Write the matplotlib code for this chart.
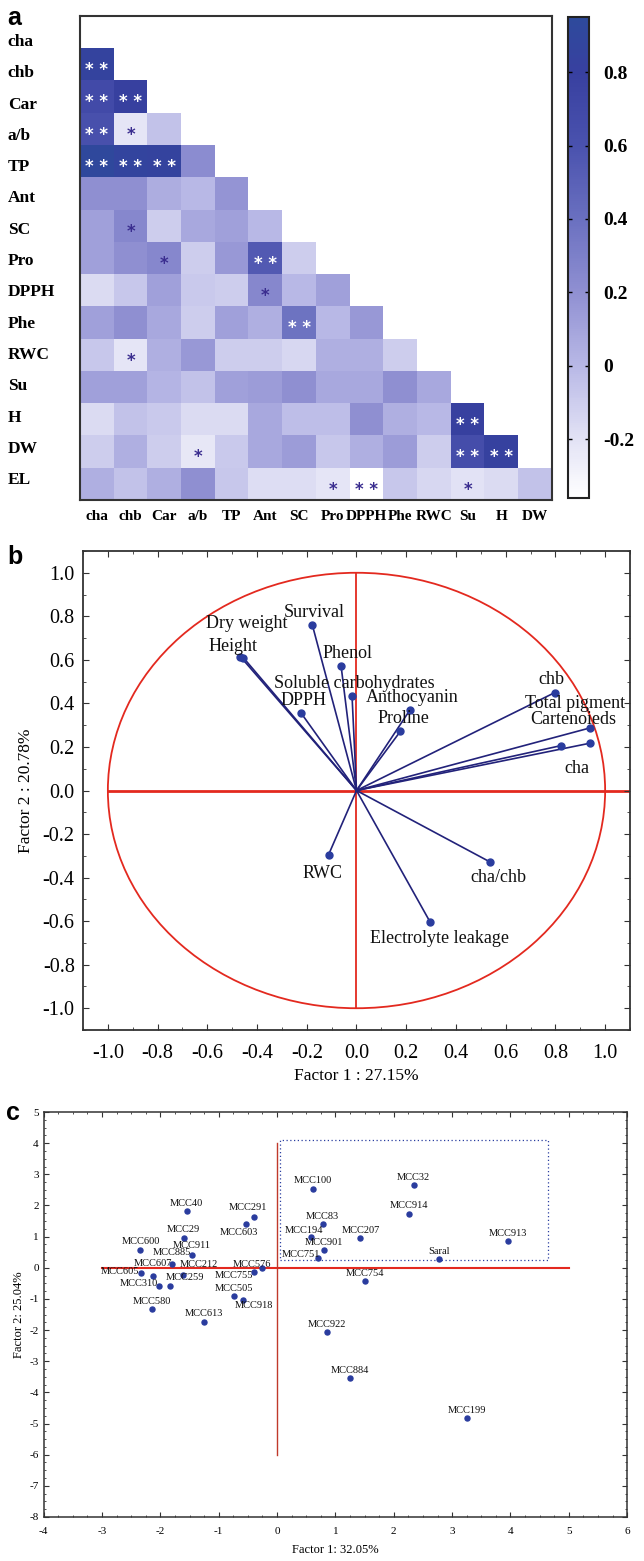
import numpy as np
import matplotlib
matplotlib.use('Agg')
import matplotlib.pyplot as plt
from matplotlib.colors import LinearSegmentedColormap, Normalize
from matplotlib.patches import Circle, Rectangle
from matplotlib.ticker import MultipleLocator
import matplotlib.cm as cm

plt.rcParams['axes.unicode_minus'] = False

# ---------------- Panel a data ----------------
traits = ['cha', 'chb', 'Car', 'a/b', 'TP', 'Ant', 'SC', 'Pro', 'DPPH', 'Phe',
          'RWC', 'Su', 'H', 'DW', 'EL']
corr_rows = [
    [],
    [0.85],
    [0.68, 0.80],
    [0.62, -0.22, -0.05],
    [0.93, 0.87, 0.85, 0.22],
    [0.20, 0.20, 0.05, 0.00, 0.18],
    [0.12, 0.25, -0.10, 0.08, 0.12, 0.00],
    [0.12, 0.20, 0.25, -0.10, 0.16, 0.55, -0.10],
    [-0.17, -0.07, 0.12, -0.08, -0.10, 0.25, 0.00, 0.12],
    [0.12, 0.20, 0.08, -0.10, 0.12, 0.04, 0.38, 0.00, 0.16],
    [-0.07, -0.22, 0.04, 0.16, -0.10, -0.10, -0.15, 0.04, 0.04, -0.10],
    [0.12, 0.12, 0.02, -0.05, 0.12, 0.14, 0.20, 0.08, 0.08, 0.20, 0.08],
    [-0.17, -0.05, -0.08, -0.17, -0.17, 0.08, -0.03, -0.03, 0.20, 0.04, 0.00, 0.80],
    [-0.10, 0.04, -0.10, -0.23, -0.08, 0.08, 0.14, -0.07, 0.04, 0.14, -0.10, 0.65, 0.82],
    [0.04, -0.05, 0.04, 0.20, -0.07, -0.18, -0.18, -0.22, -0.36, -0.07, -0.15, -0.20, -0.17, -0.05],
]
sig_rows = [
    [],
    ['**'],
    ['**', '**'],
    ['**', '*', ''],
    ['**', '**', '**', ''],
    ['', '', '', '', ''],
    ['', '*', '', '', '', ''],
    ['', '', '*', '', '', '**', ''],
    ['', '', '', '', '', '*', '', ''],
    ['', '', '', '', '', '', '**', '', ''],
    ['', '*', '', '', '', '', '', '', '', ''],
    ['', '', '', '', '', '', '', '', '', '', ''],
    ['', '', '', '', '', '', '', '', '', '', '', '**'],
    ['', '', '', '*', '', '', '', '', '', '', '', '**', '**'],
    ['', '', '', '', '', '', '', '*', '**', '', '', '*', '', ''],
]
cbar_ticks = [-0.2, 0.0, 0.2, 0.4, 0.6, 0.8]
cbar_ticklabels = ['-0.2', '0', '0.2', '0.4', '0.6', '0.8']

# ---------------- Panel b data ----------------
b_vars = ['Survival', 'Dry weight', 'Height', 'Phenol', 'Soluble carbohydrates', 'DPPH',
          'Anthocyanin', 'Proline', 'chb', 'Total pigment', 'Cartenoieds', 'cha',
          'RWC', 'cha/chb', 'Electrolyte leakage']
b_f1 = [-0.178, -0.455, -0.467, -0.062, -0.018, -0.223, 0.215, 0.176, 0.798, 0.941,
        0.822, 0.938, -0.112, 0.535, 0.297]
b_f2 = [0.762, 0.610, 0.615, 0.572, 0.436, 0.356, 0.370, 0.271, 0.450, 0.288,
        0.206, 0.217, -0.294, -0.327, -0.606]

# ---------------- Panel c data ----------------
genotypes = ['MCC40', 'MCC291', 'MCC603', 'MCC29', 'MCC600', 'MCC911', 'MCC885', 'MCC605',
             'MCC607', 'MCC212', 'MCC310', 'MCC259', 'MCC576', 'MCC755', 'MCC505', 'MCC918',
             'MCC580', 'MCC613', 'MCC100', 'MCC32', 'MCC914', 'MCC83', 'MCC194', 'MCC207',
             'MCC901', 'MCC751', 'MCC913', 'Saral', 'MCC754', 'MCC922', 'MCC884', 'MCC199']
c_f1 = [-1.55, -0.39, -0.53, -1.60, -2.34, -1.46, -1.80, -2.33,
        -2.13, -1.61, -2.02, -1.83, -0.26, -0.39, -0.73, -0.59,
        -2.14, -1.26, 0.62, 2.34, 2.26, 0.78, 0.58, 1.43,
        0.80, 0.71, 3.95, 2.77, 1.51, 0.86, 1.25, 3.25]
c_f2 = [1.82, 1.63, 1.40, 0.97, 0.58, 0.40, 0.12, -0.18,
        -0.25, -0.22, -0.59, -0.58, -0.01, -0.14, -0.91, -1.05,
        -1.33, -1.73, 2.53, 2.65, 1.74, 1.39, 0.98, 0.94,
        0.57, 0.31, 0.85, 0.28, -0.44, -2.07, -3.55, -4.83]

# ---------------- styling / layout ----------------
W, H = 644, 1561
DPI = 100
SERIF = ['Liberation Serif', 'DejaVu Serif']
SANS = ['Liberation Sans', 'DejaVu Sans']
RED = '#e3291f'
NAVY = '#22227a'
DOT = '#2a3c9e'
STAR_DARK = '#3a2d8f'

fig = plt.figure(figsize=(W / DPI, H / DPI), dpi=DPI)


def fx(px):
    return px / W


def fy(py):
    return 1 - py / H


# ======== Panel a ========
nrow, ncol = len(traits), len(traits) - 1
vmin, vmax = -0.36, 0.95
cmap = LinearSegmentedColormap.from_list('corr', [
    (0.0, '#ffffff'), (0.122, '#e2e2f5'), (0.275, '#b8b8e6'), (0.427, '#9090d2'),
    (0.58, '#6a70c0'), (0.733, '#4a52ae'), (0.885, '#3840a0'), (1.0, '#2e4a9c')])
norm = Normalize(vmin, vmax)

M = np.full((nrow, ncol), np.nan)
for i, row in enumerate(corr_rows):
    for j, v in enumerate(row):
        M[i, j] = v

axa = fig.add_axes([fx(80), fy(500), fx(472), 484 / H])
axa.imshow(np.ma.masked_invalid(M), cmap=cmap, norm=norm, aspect='auto',
           extent=(-0.5, ncol - 0.5, nrow - 0.5, -0.5), interpolation='nearest')
axa.set_xlim(-0.5, ncol - 0.5)
axa.set_ylim(nrow - 0.5, -0.5)
for i, row in enumerate(sig_rows):
    for j, s in enumerate(row):
        if s:
            col = 'white' if corr_rows[i][j] > 0.35 else STAR_DARK
            axa.text(j, i + 0.18, ' '.join(s), ha='center', va='center', color=col,
                     fontsize=12, fontweight='bold', family=['DejaVu Sans'])
# row labels sit slightly below their rows at the top and above at the bottom
axa.set_yticks([0.244 + 0.970 * i for i in range(nrow)])
axa.set_yticklabels(traits, fontsize=12.5, fontweight='bold', family=SERIF)
for t in axa.get_yticklabels():
    t.set_horizontalalignment('left')
axa.tick_params(axis='y', length=0, pad=52)
axa.set_xticks(range(ncol))
axa.set_xticklabels(traits[:-1], fontsize=11, fontweight='bold', family=SERIF)
axa.tick_params(axis='x', length=0, pad=7)
for sp in axa.spines.values():
    sp.set_color('#333333')
    sp.set_linewidth(1.5)

cax = fig.add_axes([fx(568), fy(498), fx(21), 481 / H])
cb = fig.colorbar(cm.ScalarMappable(norm=norm, cmap=cmap), cax=cax)
cb.set_ticks(cbar_ticks)
cb.set_ticklabels(cbar_ticklabels)
cb.outline.set_linewidth(1.5)
cb.outline.set_edgecolor('#222222')
cax.tick_params(direction='in', length=3, width=1, left=True, right=True, pad=10)
for t in cax.get_yticklabels():
    t.set_fontsize(14)
    t.set_fontweight('bold')
    t.set_family(SERIF)

fig.text(fx(7), fy(6), 'a', fontsize=18, fontweight='bold', family=SANS, va='top', ha='left')

# ======== Panel b ========
axb = fig.add_axes([fx(83), fy(1030), fx(547), 479 / H])
axb.set_xlim(-1.1, 1.1)
axb.set_ylim(-1.1, 1.1)
axb.add_patch(Circle((0, 0), 1.0, fill=False, edgecolor=RED, lw=1.3, zorder=1))
axb.plot([-1.0, 1.1], [0, 0], color=RED, lw=2.0, zorder=1)
axb.plot([0, 0], [-1.0, 1.0], color=RED, lw=1.3, zorder=1)
for x, y in zip(b_f1, b_f2):
    axb.plot([0, x], [0, y], color=NAVY, lw=1.2, zorder=2)
axb.plot(b_f1, b_f2, 'o', color=DOT, ms=5, zorder=3)

b_label_xy = {
    'Survival': (-0.17, 0.817), 'Dry weight': (-0.44, 0.767), 'Height': (-0.496, 0.662),
    'Phenol': (-0.035, 0.627), 'Soluble carbohydrates': (-0.008, 0.492),
    'DPPH': (-0.213, 0.413), 'Anthocyanin': (0.223, 0.428), 'Proline': (0.187, 0.329),
    'chb': (0.785, 0.509), 'Total pigment': (0.881, 0.398), 'Cartenoieds': (0.871, 0.324),
    'cha': (0.887, 0.099), 'RWC': (-0.135, -0.379), 'cha/chb': (0.57, -0.40),
    'Electrolyte leakage': (0.334, -0.68)}
for name in b_vars:
    lx, ly = b_label_xy[name]
    axb.text(lx, ly, name, ha='center', va='center', fontsize=13, family=SERIF,
             color='#111111', zorder=4)

ticks_b = np.round(np.arange(-1.0, 1.01, 0.2), 1)
tick_lbl_b = [f'{abs(v):.1f}' if abs(v) < 1e-9 else f'{v:.1f}' for v in ticks_b]
axb.set_xticks(ticks_b)
axb.set_yticks(ticks_b)
axb.set_xticklabels(tick_lbl_b)
axb.set_yticklabels(tick_lbl_b)
axb.xaxis.set_minor_locator(MultipleLocator(0.1))
axb.yaxis.set_minor_locator(MultipleLocator(0.1))
axb.tick_params(which='both', direction='in', top=True, right=True, color='#333333')
axb.tick_params(which='major', length=4)
axb.tick_params(which='minor', length=2)
axb.tick_params(axis='x', pad=10)
axb.tick_params(axis='y', pad=6)
for t in axb.get_xticklabels() + axb.get_yticklabels():
    t.set_fontsize(14.5)
    t.set_family(SERIF)
axb.set_xlabel('Factor 1 : 27.15%', fontsize=12.5, family=SERIF, labelpad=4)
axb.set_ylabel('Factor 2 : 20.78%', fontsize=12.5, family=SERIF, labelpad=6)
for sp in axb.spines.values():
    sp.set_color('#333333')
    sp.set_linewidth(1.3)

fig.text(fx(7), fy(545), 'b', fontsize=18, fontweight='bold', family=SANS, va='top', ha='left')

# ======== Panel c ========
axc = fig.add_axes([fx(43.6), fy(1517), fx(583.6), 405 / H])
axc.set_xlim(-4, 6)
axc.set_ylim(-8, 5)
axc.plot([-3, 5], [0, 0], color=RED, lw=1.5, zorder=1)
axc.plot([0, 0], [-6, 4], color='#c0392b', lw=1.0, zorder=1)
axc.add_patch(Rectangle((0.05, 0.25), 4.6, 3.85, fill=False, edgecolor='#2a3fa0',
                        lw=0.9, ls=(0, (1, 2)), zorder=1))
axc.scatter(c_f1, c_f2, s=13, color=DOT, zorder=3)

c_label_off = {  # label centre offset from the dot, in pixels (dx, dy up)
    'MCC291': (-6, 9), 'MCC603': (-7, -8), 'MCC911': (0, 10), 'MCC885': (0, 12),
    'MCC607': (0, 12), 'MCC212': (16, 10), 'MCC605': (-21, 2), 'MCC310': (-20, 3),
    'MCC259': (15, 8), 'MCC576': (-10, 4), 'MCC755': (-20, -3), 'MCC918': (11, -5),
    'MCC194': (-7, 7), 'MCC751': (-18, 4)}
for name, x, y in zip(genotypes, c_f1, c_f2):
    dx, dy = c_label_off.get(name, (0, 8))
    axc.annotate(name, (x, y), xytext=(dx * 0.72, dy * 0.72), textcoords='offset points',
                 ha='center', va='center', fontsize=7.5, family=SERIF, color='#111111',
                 zorder=4)

axc.set_xticks(range(-4, 7))
axc.set_yticks(range(-8, 6))
axc.xaxis.set_minor_locator(MultipleLocator(0.25))
axc.yaxis.set_minor_locator(MultipleLocator(0.25))
axc.tick_params(which='both', direction='in', top=True, right=True, color='#333333')
axc.tick_params(which='major', length=3.5, labelsize=8)
axc.tick_params(which='minor', length=1.5)
axc.tick_params(axis='x', pad=7)
for t in axc.get_xticklabels() + axc.get_yticklabels():
    t.set_family(SERIF)
axc.set_xlabel('Factor 1: 32.05%', fontsize=9, family=SERIF, labelpad=6)
axc.set_ylabel('Factor 2: 25.04%', fontsize=9, family=SERIF, labelpad=3)
for sp in axc.spines.values():
    sp.set_color('#333333')
    sp.set_linewidth(1.1)

fig.text(fx(6), fy(1101), 'c', fontsize=18, fontweight='bold', family=SANS, va='top', ha='left')

fig.savefig('out.png', dpi=DPI)
